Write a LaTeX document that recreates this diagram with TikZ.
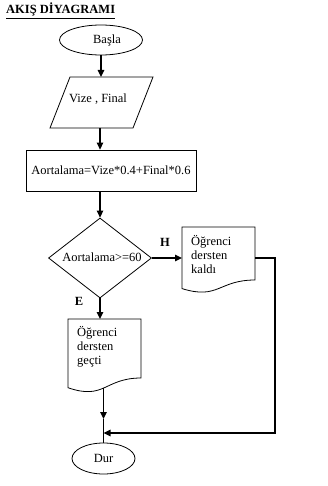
\documentclass[tikz,border=0pt]{standalone}
\usepackage{fontspec}
\setmainfont{Liberation Serif}
\usetikzlibrary{shapes.geometric,arrows.meta}
\begin{document}
\begin{tikzpicture}[x=1pt,y=-1pt,
  every node/.style={font=\fontsize{12.5}{14}\selectfont},
  shapeline/.style={draw, line width=0.8pt},
  conn/.style={line width=1.3pt, -{Triangle[length=7pt,width=6.5pt]}},
  plainline/.style={line width=1.3pt},
  txt/.style={inner sep=0pt},
  lbl/.style={inner sep=0pt, font=\fontsize{12.5}{14}\selectfont\bfseries}]
\useasboundingbox[fill=white] (0,0) rectangle (328,486);

% title
\node[lbl, anchor=base west] (title) at (6,14) {\underline{AKIŞ DİYAGRAMI}};

% start
\node[ellipse, shapeline, minimum width=83pt, minimum height=30pt, inner sep=0pt] (start) at (101,40) {};
\node[txt] (starttext) at (107,40) {Başla};

% input parallelogram
\draw[shapeline] (70,77) -- (153,77) -- (133,128) -- (50,128) -- cycle;
\node[txt] (input) at (98,99) {Vize , Final};
\coordinate (intop) at (101,77);
\coordinate (inbot) at (100,128);

% process
\node[rectangle, shapeline, minimum width=170pt, minimum height=41pt, inner sep=2pt] (calc) at (111,170.5) {Aortalama=Vize*0.4+Final*0.6};

% decision
\node[diamond, shapeline, minimum width=103pt, minimum height=80pt, inner sep=0pt] (dec) at (100,258) {};
\node[txt] (dectext) at (102,257) {Aortalama>=60};

% document: failed
\draw[shapeline] (182,227) -- (255,227) -- (255,280) .. controls (218.5,280) and (218.5,300) .. (182,288.6) -- cycle;
\node[txt, anchor=north west, align=left] (fail) at (191,235) {Öğrenci\\dersten\\kaldı};
\coordinate (d1w) at (182,258);
\coordinate (d1e) at (255,258);

% document: passed
\draw[shapeline] (68,319) -- (141,319) -- (141,378) .. controls (104.5,378) and (104.5,400.5) .. (68,387.7) -- cycle;
\node[txt, anchor=north west, align=left] (pass) at (77,326) {Öğrenci\\dersten\\geçti};
\coordinate (d2top) at (100,319);
\coordinate (d2b) at (103.5,388);

% end
\node[ellipse, shapeline, minimum width=63pt, minimum height=31pt, inner sep=0pt] (dur) at (103.5,458.5) {Dur};
\coordinate (mid) at (103.5,419);
\coordinate (joint) at (103.5,433);

% labels
\node[lbl] (H) at (165,242.5) {H};
\node[lbl] (E) at (79,301) {E};

% connectors
\draw[conn] (start.south -| intop) -- (intop);
\draw[conn] (inbot) -- (inbot |- calc.north);
\draw[conn] (calc.south -| dec.north) -- (dec.north);
\draw[conn] (dec.east) -- (d1w);
\draw[conn] (dec.south) -- (d2top);
\draw[plainline] (mid) -- (dur.north);
\draw[conn] (d2b) -- (mid);
\draw[conn] (d1e) -- ++(20,0) |- (joint);
\end{tikzpicture}
\end{document}
